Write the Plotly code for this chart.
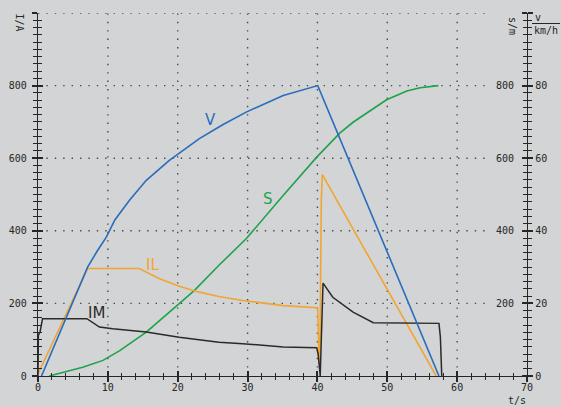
import plotly.graph_objects as go

# ---- data ----
# V: speed in km/h (right outer axis)
v_t = [0.5, 7.1, 8.5, 9.8, 11.0, 13.1, 15.5, 18.8, 23.1, 26.5, 29.8, 35.1, 40.05, 57.4]
v_val = [0, 30, 34.5, 38.3, 43.0, 48.4, 53.9, 59.4, 65.4, 69.3, 72.7, 77.3, 80, 0]

# S: distance in m (right inner axis, same scale as left)
s_t = [1.6, 4.0, 6.4, 9.3, 11.7, 15.5, 20.2, 22.4, 25.9, 29.8, 35.0, 39.9, 43.2, 45.1, 49.9, 52.8, 54.7, 57.3]
s_val = [0, 11, 24, 43, 70, 121, 199, 236, 305, 378, 495, 603, 669, 699, 761, 785, 794, 800]

# IL: line current in A
il_t = [0, 7.1, 14.5, 17.4, 20.2, 23.1, 25.9, 29.3, 35.1, 39.9, 40.05, 40.2, 40.35, 40.45, 40.55, 40.7, 57.0]
il_val = [6, 296, 296, 268, 247, 231, 219, 208, 194, 188, 180, 60, 33, 250, 480, 555, 0]

# IM: motor current in A
im_t = [0, 0.05, 0.3, 0.65, 7.0, 8.8, 10.7, 15.5, 20.2, 23.1, 25.9, 29.3, 35.1, 39.9, 40.1, 40.4, 40.6, 40.8,
        42.2, 45.1, 48.0, 57.4, 57.6, 57.8]
im_val = [0, 112, 122, 158, 158, 135, 130, 121, 107, 100, 93, 89, 80, 78, 60, 0, 110, 256,
          217, 176, 147, 145, 107, 0]

x_ticks = [0, 10, 20, 30, 40, 50, 60, 70]
x_labels = ["0", "10", "20", "30", "40", "50", "60", "70"]
i_ticks = [0, 200, 400, 600, 800, 1000]
i_labels = ["0", "200", "400", "600", "800", ""]
s_labels = ["", "200", "400", "600", "800", ""]
v_ticks = [0, 20, 40, 60, 80, 100]
v_labels = ["0", "20", "40", "60", "80", ""]
grid_t = [10, 20, 30, 40, 50, 60]
grid_y = [200, 400, 600, 800, 1000]

# ---- styling ----
BG = "#d2d4d5"
AX = "#262626"
MONO = "DejaVu Sans Mono"
C_V = "#2a6cbc"
C_S = "#1ea24b"
C_IL = "#f2a533"
C_IM = "#2a2a2a"

fig = go.Figure()
fig.add_trace(go.Scatter(x=s_t, y=s_val, mode="lines", line=dict(color=C_S, width=1.6), xaxis="x", yaxis="y", hoverinfo="skip"))
fig.add_trace(go.Scatter(x=il_t, y=il_val, mode="lines", line=dict(color=C_IL, width=1.6), xaxis="x", yaxis="y", hoverinfo="skip"))
fig.add_trace(go.Scatter(x=im_t, y=im_val, mode="lines", line=dict(color=C_IM, width=1.5), xaxis="x", yaxis="y", hoverinfo="skip"))
fig.add_trace(go.Scatter(x=v_t, y=v_val, mode="lines", line=dict(color=C_V, width=1.6), xaxis="x", yaxis="y2", hoverinfo="skip"))
# empty traces so the overlay tick axes are created
fig.add_trace(go.Scatter(x=[], y=[], xaxis="x2", yaxis="y3", hoverinfo="skip"))
fig.add_trace(go.Scatter(x=[], y=[], xaxis="x", yaxis="y4", hoverinfo="skip"))

tickfont = dict(family=MONO, size=10, color=AX)

# grid (dotted)
for t in grid_t:
    fig.add_shape(type="line", xref="x", yref="y", x0=t, x1=t, y0=0, y1=1000,
                  line=dict(color="#4a4a4a", width=1.4, dash="1.4px,7px"), layer="below")
for yv in grid_y:
    fig.add_shape(type="line", xref="x", yref="y", x0=0, x1=64.2, y0=yv, y1=yv,
                  line=dict(color="#4a4a4a", width=1.4, dash="1.4px,7px"), layer="below")

# curve labels
for txt, x, y, c in [("V", 24.65, 704, C_V), ("S", 32.9, 488, C_S), ("IL", 16.4, 305, C_IL), ("IM", 8.33, 173, C_IM)]:
    fig.add_annotation(x=x, y=y, xref="x", yref="y", text=txt, showarrow=False,
                       xanchor="center", yanchor="middle",
                       font=dict(family="DejaVu Sans", size=15, color=c))

L, R, T, B = 38, 34, 13, 31
W, H = 561, 407
PW, PH = W - L - R, H - T - B


def px(xp):
    return (xp - L) / PW


def py(yp):
    return (H - B - yp) / PH


def unit_label(text, cx, cy, angle=0):
    fig.add_annotation(x=px(cx), y=py(cy), xref="paper", yref="paper", text=text, textangle=angle,
                       xanchor="center", yanchor="middle", showarrow=False,
                       font=dict(family=MONO, size=10, color=AX))


unit_label("I/A", 19.5, 22, 90)
unit_label("s/m", 512.5, 25.5, 90)
unit_label("v", 538, 17)
unit_label("km/h", 546, 30)
fig.add_shape(type="line", xref="paper", yref="paper", x0=px(532), x1=px(560), y0=py(23.5), y1=py(23.5),
              line=dict(color=AX, width=1))
unit_label("t/s", 517, 401)

common = dict(showgrid=False, zeroline=False, automargin=False)

fig.update_layout(
    width=W, height=H,
    margin=dict(l=L, r=R, t=T, b=B, pad=0, autoexpand=False),
    paper_bgcolor=BG, plot_bgcolor=BG,
    showlegend=False,
    xaxis=dict(range=[0, 70], showline=True, linecolor=AX, linewidth=1.3, ticks="outside", ticklen=5,
               tickwidth=1.5, tickcolor=AX, tickmode="array", tickvals=x_ticks, ticktext=x_labels,
               tickfont=tickfont, ticklabelstandoff=-3,
               minor=dict(tick0=0, dtick=2, ticks="outside", ticklen=3, tickwidth=1.2, tickcolor=AX, showgrid=False),
               **common),
    xaxis2=dict(range=[0, 70], overlaying="x", anchor="y", side="bottom", showline=False, ticks="inside",
                ticklen=5, tickwidth=1.5, tickcolor=AX, tickmode="array", tickvals=x_ticks,
                showticklabels=False,
                minor=dict(tick0=0, dtick=2, ticks="inside", ticklen=3, tickwidth=1.2, tickcolor=AX, showgrid=False),
                **common),
    yaxis=dict(range=[0, 1000], side="left", showline=True, linecolor=AX, linewidth=1.3, ticks="outside",
               ticklen=5, tickwidth=1.5, tickcolor=AX, tickmode="array", tickvals=i_ticks, ticktext=i_labels,
               tickfont=tickfont, ticklabelstandoff=3,
               minor=dict(tick0=0, dtick=20, ticks="outside", ticklen=4, tickwidth=1.2, tickcolor=AX, showgrid=False),
               **common),
    yaxis3=dict(range=[0, 1000], overlaying="y", anchor="x", side="left", showline=False, ticks="inside",
                ticklen=5, tickwidth=1.5, tickcolor=AX, tickmode="array", tickvals=i_ticks,
                showticklabels=False,
                minor=dict(tick0=0, dtick=20, ticks="inside", ticklen=4, tickwidth=1.2, tickcolor=AX, showgrid=False),
                **common),
    yaxis2=dict(range=[0, 100], overlaying="y", anchor="x", side="right", showline=True, linecolor=AX,
                linewidth=1.3, ticks="outside", ticklen=5, tickwidth=1.5, tickcolor=AX, tickmode="array",
                tickvals=v_ticks, ticktext=v_labels, tickfont=tickfont,
                minor=dict(tick0=0, dtick=2, ticks="outside", ticklen=4, tickwidth=1.2, tickcolor=AX, showgrid=False),
                **common),
    # S axis: labels to the left of the right-hand axis line
    yaxis4=dict(range=[0, 1000], overlaying="y", anchor="free", position=1.0, side="left", showline=False,
                ticks="outside", ticklen=5, tickwidth=1.5, tickcolor=AX, tickmode="array", tickvals=i_ticks,
                ticktext=s_labels, ticklabelstandoff=6, tickfont=tickfont,
                minor=dict(tick0=0, dtick=20, ticks="outside", ticklen=4, tickwidth=1.2, tickcolor=AX, showgrid=False),
                **common),
)

fig.write_html("out.html", config={"displayModeBar": False},
               post_script="document.body.style.margin='0';document.body.style.padding='0';")
